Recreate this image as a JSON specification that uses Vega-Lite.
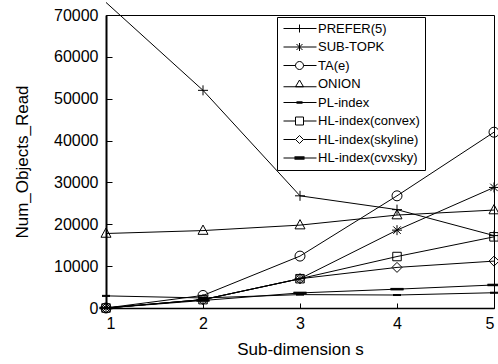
{
  "$schema": "https://vega.github.io/schema/vega-lite/v6.json",
  "width": 388,
  "height": 293,
  "autosize": "none",
  "padding": {"left": 106, "top": 15, "right": 4, "bottom": 56},
  "background": "white",
  "config": {
    "view": {"stroke": "black", "strokeWidth": 1},
    "font": "Liberation Sans",
    "axis": {"labelFont": "Liberation Sans", "titleFont": "Liberation Sans", "labelColor": "black", "titleColor": "black", "domainColor": "black", "tickColor": "black", "grid": false, "titleFontWeight": "normal"}
  },
  "data": {"values": [
    {"series": "PREFER(5)", "s": 1, "reads": 73000},
    {"series": "PREFER(5)", "s": 2, "reads": 52000},
    {"series": "PREFER(5)", "s": 3, "reads": 26800},
    {"series": "PREFER(5)", "s": 4, "reads": 23500},
    {"series": "PREFER(5)", "s": 5, "reads": 17300},
    {"series": "SUB-TOPK", "s": 1, "reads": 0},
    {"series": "SUB-TOPK", "s": 2, "reads": 2000},
    {"series": "SUB-TOPK", "s": 3, "reads": 7000},
    {"series": "SUB-TOPK", "s": 4, "reads": 18600},
    {"series": "SUB-TOPK", "s": 5, "reads": 28800},
    {"series": "TA(e)", "s": 1, "reads": 0},
    {"series": "TA(e)", "s": 2, "reads": 3000},
    {"series": "TA(e)", "s": 3, "reads": 12400},
    {"series": "TA(e)", "s": 4, "reads": 26800},
    {"series": "TA(e)", "s": 5, "reads": 42000},
    {"series": "ONION", "s": 1, "reads": 17800},
    {"series": "ONION", "s": 2, "reads": 18500},
    {"series": "ONION", "s": 3, "reads": 19800},
    {"series": "ONION", "s": 4, "reads": 22200},
    {"series": "ONION", "s": 5, "reads": 23400},
    {"series": "PL-index", "s": 1, "reads": 2900},
    {"series": "PL-index", "s": 2, "reads": 2400},
    {"series": "PL-index", "s": 3, "reads": 3200},
    {"series": "PL-index", "s": 4, "reads": 3100},
    {"series": "PL-index", "s": 5, "reads": 3650},
    {"series": "HL-index(convex)", "s": 1, "reads": 0},
    {"series": "HL-index(convex)", "s": 2, "reads": 2000},
    {"series": "HL-index(convex)", "s": 3, "reads": 7000},
    {"series": "HL-index(convex)", "s": 4, "reads": 12300},
    {"series": "HL-index(convex)", "s": 5, "reads": 17000},
    {"series": "HL-index(skyline)", "s": 1, "reads": 0},
    {"series": "HL-index(skyline)", "s": 2, "reads": 2000},
    {"series": "HL-index(skyline)", "s": 3, "reads": 7000},
    {"series": "HL-index(skyline)", "s": 4, "reads": 9700},
    {"series": "HL-index(skyline)", "s": 5, "reads": 11200},
    {"series": "HL-index(cvxsky)", "s": 1, "reads": 0},
    {"series": "HL-index(cvxsky)", "s": 2, "reads": 1800},
    {"series": "HL-index(cvxsky)", "s": 3, "reads": 3600},
    {"series": "HL-index(cvxsky)", "s": 4, "reads": 4500},
    {"series": "HL-index(cvxsky)", "s": 5, "reads": 5500}
  ]},
  "encoding": {
    "x": {"field": "s", "type": "quantitative", "scale": {"domain": [1, 5], "nice": false, "zero": false},
      "axis": {"values": [1, 2, 3, 4, 5], "title": "Sub-dimension s", "titleFontSize": 17, "labelFontSize": 16, "tickSize": -5, "labelPadding": 12, "titlePadding": 10, "domainWidth": 1.5}},
    "y": {"field": "reads", "type": "quantitative", "scale": {"domain": [0, 70000], "nice": false},
      "axis": {"values": [0, 10000, 20000, 30000, 40000, 50000, 60000, 70000], "format": "d", "title": "Num_Objects_Read", "titleFontSize": 17, "labelFontSize": 16, "tickSize": -6, "labelPadding": 14, "titlePadding": 22, "domainWidth": 2}}
  },
  "layer": [
    {
      "mark": {"type": "line", "color": "black", "strokeWidth": 1, "clip": false},
      "encoding": {"detail": {"field": "series"}}
    },
    {
      "transform": [{"filter": "datum.reads <= 70000"}],
      "mark": {"type": "point", "filled": false, "stroke": "black", "strokeWidth": 1, "size": 100, "opacity": 1, "clip": false},
      "encoding": {
        "shape": {"field": "series", "type": "nominal", "legend": null,
          "scale": {"domain": ["PREFER(5)", "SUB-TOPK", "TA(e)", "ONION", "PL-index", "HL-index(convex)", "HL-index(skyline)", "HL-index(cvxsky)"],
            "range": [
              "M-1,0L1,0M0,-1L0,1",
              "M-1,0L1,0M0,-1L0,1M-0.75,-0.75L0.75,0.75M-0.75,0.75L0.75,-0.75",
              "M1,0A1,1 0 1,1 -1,0A1,1 0 1,1 1,0Z",
              "M0,-1.1L1,0.75L-1,0.75Z",
              "M-0.8,-0.1L0.8,-0.1M-0.8,0L0.8,0M-0.8,0.1L0.8,0.1",
              "M-0.85,-0.85L0.85,-0.85L0.85,0.85L-0.85,0.85Z",
              "M0,-1L1,0L0,1L-1,0Z",
              "M-1.3,-0.15L1.3,-0.15M-1.3,-0.05L1.3,-0.05M-1.3,0.05L1.3,0.05M-1.3,0.15L1.3,0.15"
            ]}}
      }
    },
    {
      "mark": {"type": "point", "filled": false, "stroke": "black", "strokeWidth": 1, "size": 100, "opacity": 0},
      "encoding": {
        "shape": {"field": "series", "type": "nominal",
          "scale": {"domain": ["PREFER(5)", "SUB-TOPK", "TA(e)", "ONION", "PL-index", "HL-index(convex)", "HL-index(skyline)", "HL-index(cvxsky)"],
            "range": [
              "M-1,0L5.6,0M2.2,-0.8L2.2,0.8",
              "M-1,0L5.6,0M2.2,-0.8L2.2,0.8M1.6,-0.6L2.8,0.6M1.6,0.6L2.8,-0.6",
              "M-1,0L1.4,0M3,0L5.6,0M3,0A0.8,0.8 0 1,1 1.4,0A0.8,0.8 0 1,1 3,0Z",
              "M-1,0.55L5.6,0.55M2.2,-0.8L3,0.55L1.4,0.55Z",
              "M-1,0L5.6,0M1.6,-0.15L2.8,-0.15M1.6,0.15L2.8,0.15",
              "M-1,0L1.4,0M3,0L5.6,0M1.4,-0.8L3,-0.8L3,0.8L1.4,0.8Z",
              "M-1,0L1.4,0M3,0L5.6,0M2.2,-0.8L3,0L2.2,0.8L1.4,0Z",
              "M-1,0L5.6,0M1.2,-0.25L3.2,-0.25M1.2,-0.08L3.2,-0.08M1.2,0.08L3.2,0.08M1.2,0.25L3.2,0.25"
            ]},
          "legend": {"title": null, "orient": "none", "legendX": 171, "legendY": 2, "symbolSize": 100, "symbolOpacity": 1, "symbolStrokeColor": "black", "symbolStrokeWidth": 1, "symbolFillColor": "transparent", "labelFont": "Liberation Sans", "labelFontSize": 13, "labelColor": "black", "labelOffset": 23, "rowPadding": 4.5, "padding": 5, "strokeColor": "black", "fillColor": "white", "labelLimit": 200}}
      }
    }
  ],
  "resolve": {"scale": {"shape": "independent"}}
}
